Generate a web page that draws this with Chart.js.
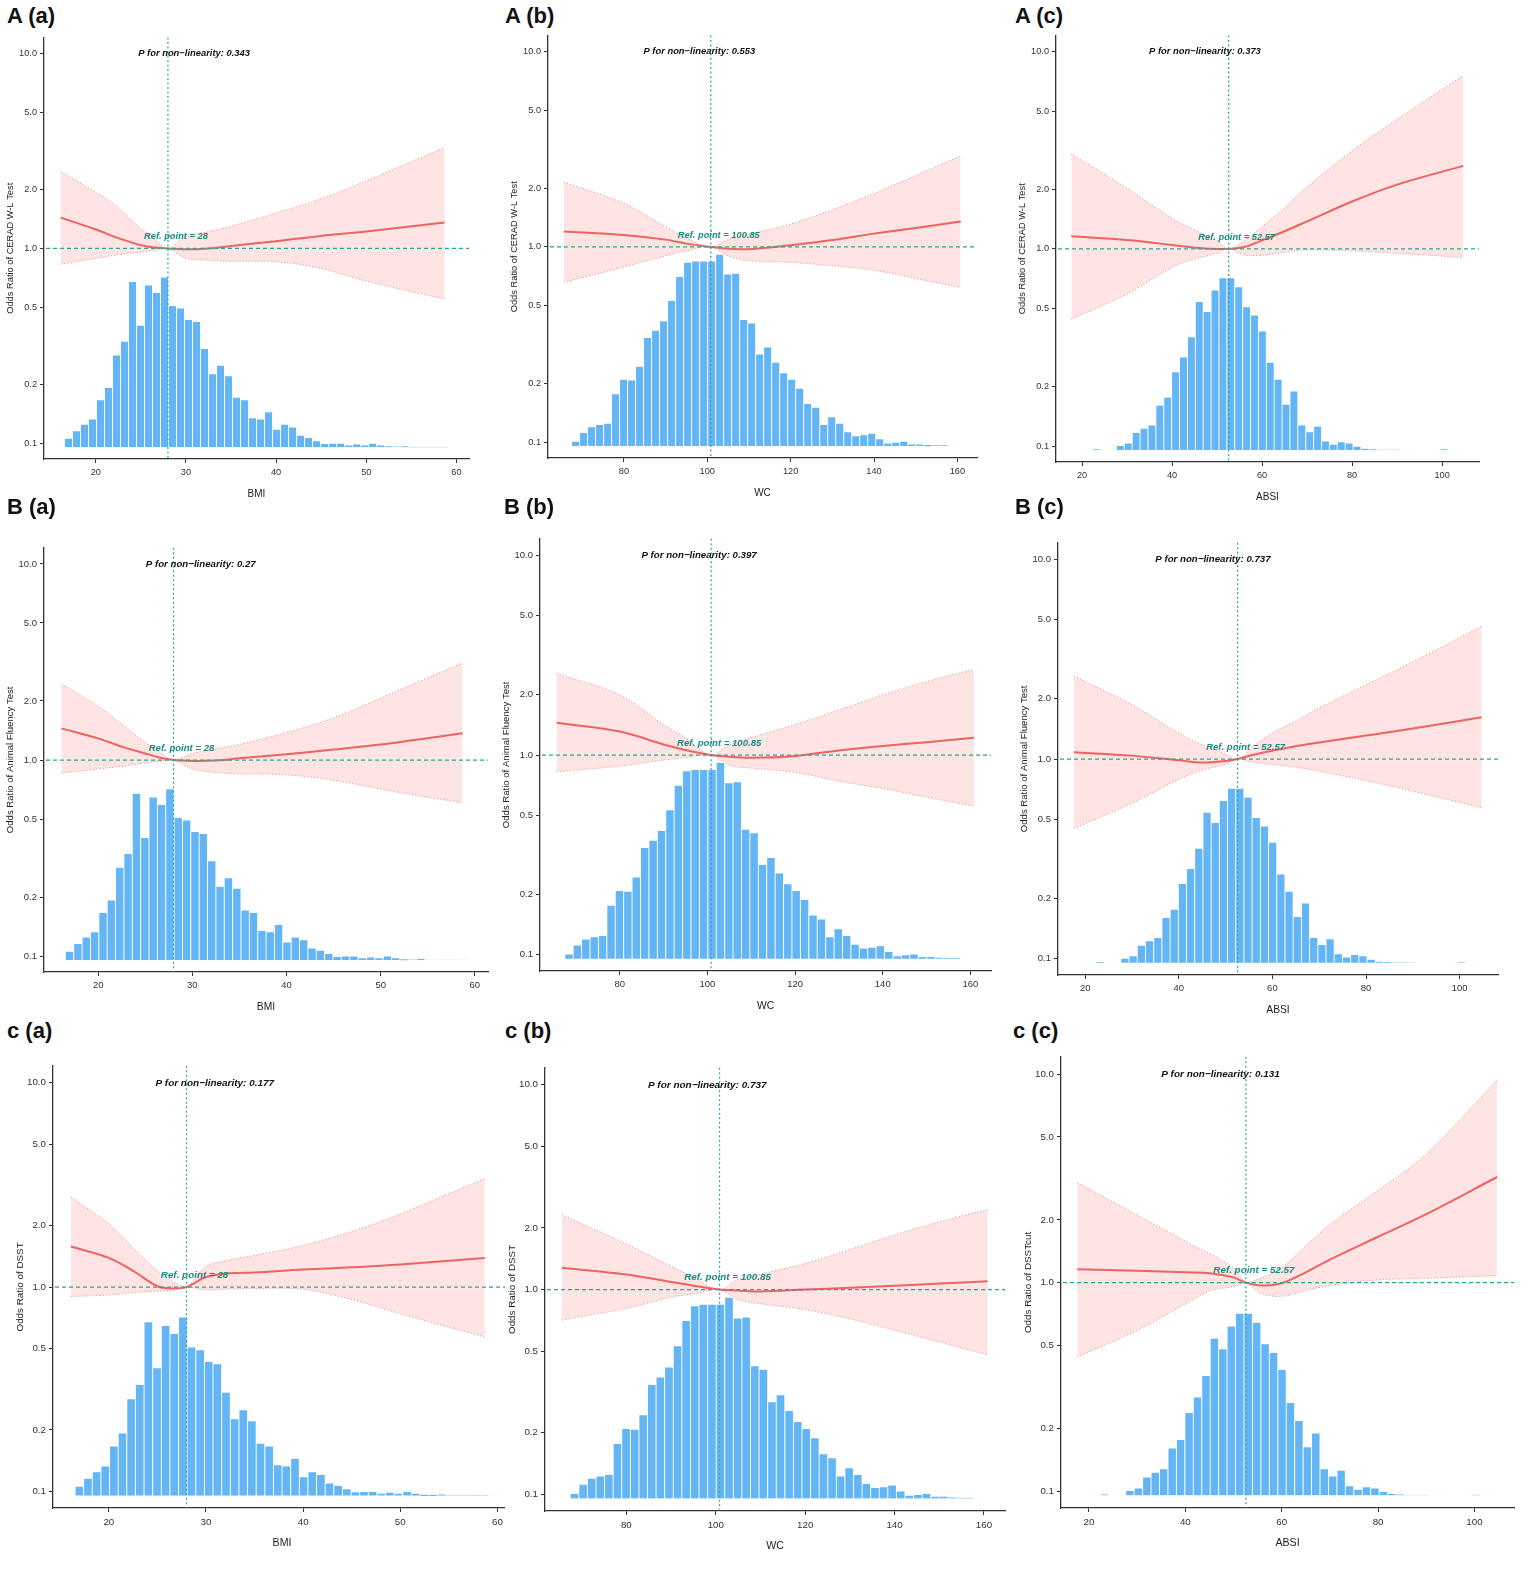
<!DOCTYPE html>
<html>
<head>
<meta charset="utf-8">
<script src="https://cdn.jsdelivr.net/npm/chart.js@4.4.0/dist/chart.umd.min.js"></script>
<style>
  body { margin: 0; background: #fff; }
  #page { position: relative; width: 1535px; height: 1571px; overflow: hidden; font-family: "Liberation Sans", Arial, sans-serif; }
  .panel { position: absolute; overflow: hidden; }
  .tag { position: absolute; font-weight: bold; font-size: 22px; line-height: 26px; color: #111; white-space: nowrap; }
</style>
</head>
<body>
<div id="page"></div>
<script>
// Tick labels
const orTicks = [0.1, 0.2, 0.5, 1, 2, 5, 10];
const bmiTicks = [20, 30, 40, 50, 60];
const wcTicks = [80, 100, 120, 140, 160];
const absiTicks = [20, 40, 60, 80, 100];

// Histograms (bar tops in OR units of the plot), shared by the three outcomes
const bmiBinStart = 16.52, bmiBinWidth = 0.888;
const bmiHist = [0.106, 0.116, 0.125, 0.133, 0.167, 0.193, 0.284, 0.334, 0.677, 0.403,
  0.648, 0.593, 0.713, 0.509, 0.494, 0.432, 0.422, 0.306, 0.227, 0.251,
  0.222, 0.172, 0.167, 0.135, 0.133, 0.145, 0.118, 0.125, 0.121, 0.110,
  0.107, 0.103, 0.0996, 0.100, 0.100, 0.098, 0.099, 0.098, 0.100, 0.098,
  0.0965, 0.096, 0.097, 0.0957, 0.0957, 0.0957, 0.0957, 0.0957];
const wcBinStart = 67.45, wcBinWidth = 1.92;
const wcHist = [0.101, 0.112, 0.120, 0.123, 0.125, 0.177, 0.210, 0.208, 0.245, 0.344,
  0.374, 0.419, 0.532, 0.706, 0.834, 0.847, 0.847, 0.847, 0.918, 0.726,
  0.734, 0.425, 0.408, 0.283, 0.307, 0.257, 0.227, 0.210, 0.189, 0.158,
  0.151, 0.123, 0.135, 0.125, 0.113, 0.108, 0.109, 0.111, 0.104, 0.099,
  0.100, 0.101, 0.098, 0.098, 0.097, 0.0965, 0.0965];
const absiBinStart = 22.37, absiBinWidth = 1.753;
const absiHist = [0.0965, 0, 0, 0.1007, 0.1035, 0.117, 0.123, 0.128, 0.161, 0.177,
  0.238, 0.283, 0.358, 0.541, 0.481, 0.619, 0.713, 0.713, 0.643, 0.509,
  0.462, 0.383, 0.266, 0.218, 0.163, 0.190, 0.128, 0.118, 0.126, 0.106,
  0.102, 0.105, 0.1035, 0.0996, 0.0973, 0.0966, 0.0958, 0.0958, 0.0957, 0,
  0, 0, 0, 0, 0.0962];

// Spline curves: x values where the curves were read
const bmiGrid = [16.1, 20, 22.5, 25, 26.5, 28, 30, 32.5, 35, 40, 45, 50, 58.7];
const wcGrid = [65.6, 80, 90, 95, 100.85, 105, 110, 120, 130, 140, 150, 160.8];
const absiGrid = [17.6, 30, 40, 45, 50, 52.57, 56, 60, 65, 70, 80, 90, 104.7];

// CERAD W-L Test
const cerBmiOR   = [1.44, 1.25, 1.13, 1.04, 1.01, 1.00, 0.99, 1.00, 1.03, 1.09, 1.16, 1.22, 1.36];
const cerBmiLow  = [0.83, 0.89, 0.93, 0.96, 0.98, 1.00, 0.89, 0.87, 0.86, 0.855, 0.79, 0.68, 0.55];
const cerBmiHigh = [2.48, 1.94, 1.62, 1.26, 1.12, 1.00, 1.15, 1.22, 1.30, 1.52, 1.80, 2.22, 3.30];
const cerWcOR    = [1.20, 1.15, 1.09, 1.04, 1.00, 0.98, 0.973, 1.02, 1.085, 1.17, 1.25, 1.35];
const cerWcLow   = [0.66, 0.79, 0.90, 0.955, 1.00, 0.90, 0.85, 0.834, 0.80, 0.76, 0.69, 0.62];
const cerWcHigh  = [2.15, 1.67, 1.27, 1.11, 1.00, 1.09, 1.16, 1.31, 1.55, 1.88, 2.32, 2.93];
const cerAbsiOR   = [1.16, 1.11, 1.047, 1.015, 1.00, 1.00, 1.023, 1.105, 1.23, 1.38, 1.74, 2.12, 2.64];
const cerAbsiLow  = [0.44, 0.59, 0.807, 0.888, 0.951, 1.00, 0.933, 0.93, 0.96, 0.99, 0.977, 0.951, 0.905];
const cerAbsiHigh = [3.03, 2.03, 1.43, 1.25, 1.10, 1.00, 1.10, 1.30, 1.62, 2.06, 3.15, 4.53, 7.60];

// Animal Fluency Test
const aftBmiOR   = [1.45, 1.29, 1.17, 1.08, 1.03, 1.00, 0.99, 0.995, 1.02, 1.07, 1.13, 1.20, 1.37];
const aftBmiLow  = [0.86, 0.90, 0.93, 0.965, 0.985, 1.00, 0.90, 0.865, 0.85, 0.84, 0.79, 0.71, 0.605];
const aftBmiHigh = [2.44, 1.88, 1.52, 1.23, 1.10, 1.00, 1.08, 1.14, 1.20, 1.38, 1.64, 2.07, 3.13];
const aftWcOR    = [1.45, 1.31, 1.13, 1.06, 1.00, 0.98, 0.97, 0.99, 1.055, 1.11, 1.16, 1.22];
const aftWcLow   = [0.824, 0.88, 0.945, 0.97, 1.00, 0.89, 0.86, 0.82, 0.74, 0.68, 0.615, 0.555];
const aftWcHigh  = [2.56, 2.00, 1.42, 1.22, 1.00, 1.13, 1.22, 1.42, 1.68, 2.00, 2.33, 2.68];
const aftAbsiOR   = [1.08, 1.04, 0.985, 0.96, 0.977, 1.00, 1.05, 1.10, 1.16, 1.21, 1.31, 1.42, 1.62];
const aftAbsiLow  = [0.45, 0.60, 0.79, 0.88, 0.94, 1.00, 0.96, 0.94, 0.91, 0.87, 0.78, 0.69, 0.57];
const aftAbsiHigh = [2.60, 1.87, 1.35, 1.18, 1.06, 1.00, 1.16, 1.35, 1.55, 1.80, 2.35, 3.06, 4.62];

// DSST
const dsstBmiOR   = [1.58, 1.39, 1.20, 1.01, 0.985, 1.00, 1.12, 1.17, 1.18, 1.22, 1.25, 1.29, 1.39];
const dsstBmiLow  = [0.90, 0.915, 0.94, 0.955, 0.96, 1.00, 0.97, 0.98, 0.985, 0.975, 0.87, 0.74, 0.57];
const dsstBmiHigh = [2.75, 2.04, 1.55, 1.20, 1.07, 1.01, 1.26, 1.36, 1.43, 1.60, 1.87, 2.28, 3.40];
const dsstWcOR    = [1.28, 1.185, 1.09, 1.045, 1.00, 0.99, 0.98, 1.00, 1.02, 1.045, 1.07, 1.10];
const dsstWcLow   = [0.71, 0.81, 0.92, 0.953, 1.00, 0.895, 0.853, 0.80, 0.72, 0.633, 0.555, 0.48];
const dsstWcHigh  = [2.32, 1.67, 1.30, 1.15, 1.00, 1.125, 1.19, 1.34, 1.57, 1.85, 2.14, 2.46];
const dsstAbsiOR   = [1.16, 1.14, 1.12, 1.11, 1.06, 1.00, 0.968, 0.993, 1.12, 1.29, 1.66, 2.13, 3.21];
const dsstAbsiLow  = [0.44, 0.59, 0.79, 0.91, 0.957, 0.99, 0.884, 0.86, 0.917, 0.968, 1.03, 1.05, 1.08];
const dsstAbsiHigh = [3.02, 2.11, 1.58, 1.38, 1.18, 1.01, 1.06, 1.18, 1.50, 1.90, 2.77, 4.14, 9.37];

const FONT = '"Liberation Sans", Arial, sans-serif';
const TEAL = '#26A69A';
const TEAL_TEXT = '#1B8C80';
const BAR = '#64B5F6';
const LINE = '#EE6262';
const BAND_FILL = 'rgba(248, 118, 109, 0.2)';
const BAND_EDGE = 'rgba(225, 120, 120, 0.75)';
const AXIS = '#333';
const OR_MIN = 0.083, OR_MAX = 12.1, HIST_BASE = 0.0955;

const bmi = { name: 'BMI', grid: bmiGrid, ticks: bmiTicks, min: 14.25, max: 61.4, ref: 28, refLabel: '28', pX: 30.9,
  hist: bmiHist, binStart: bmiBinStart, binWidth: bmiBinWidth };
const wc = { name: 'WC', grid: wcGrid, ticks: wcTicks, min: 61.8, max: 164.7, ref: 100.85, refLabel: '100.85', pX: 98.1,
  hist: wcHist, binStart: wcBinStart, binWidth: wcBinWidth };
const absi = { name: 'ABSI', grid: absiGrid, ticks: absiTicks, min: 14.2, max: 108.2, ref: 52.57, refLabel: '52.57', pX: 47.3,
  hist: absiHist, binStart: absiBinStart, binWidth: absiBinWidth };

const panels = [
  { tag: 'A (a)', tagXY: [7, 16], v: bmi, yTitle: 'Odds Ratio of CERAD W-L Test', p: '0.343', or: cerBmiOR, lo: cerBmiLow, hi: cerBmiHigh, box: [44, 33, 469, 459], fs: 1 },
  { tag: 'A (b)', tagXY: [505, 16], v: wc, yTitle: 'Odds Ratio of CERAD W-L Test', p: '0.553', or: cerWcOR, lo: cerWcLow, hi: cerWcHigh, box: [548, 31, 977, 458], fs: 1 },
  { tag: 'A (c)', tagXY: [1015, 16], v: absi, yTitle: 'Odds Ratio of CERAD W-L Test', p: '0.373', or: cerAbsiOR, lo: cerAbsiLow, hi: cerAbsiHigh, box: [1056, 31, 1479, 462], fs: 1 },
  { tag: 'B (a)', tagXY: [7, 507], v: bmi, yTitle: 'Odds Ratio of Animal Fluency Test', p: '0.27', or: aftBmiOR, lo: aftBmiLow, hi: aftBmiHigh, box: [44, 543, 488, 972], fs: 1.03 },
  { tag: 'B (b)', tagXY: [504, 507], v: wc, yTitle: 'Odds Ratio of Animal Fluency Test', p: '0.397', or: aftWcOR, lo: aftWcLow, hi: aftWcHigh, box: [540, 534, 991, 971], fs: 1.03 },
  { tag: 'B (c)', tagXY: [1015, 507], v: absi, yTitle: 'Odds Ratio of Animal Fluency Test', p: '0.737', or: aftAbsiOR, lo: aftAbsiLow, hi: aftAbsiHigh, box: [1058, 538, 1498, 975], fs: 1.03 },
  { tag: 'c (a)', tagXY: [7, 1031], v: bmi, yTitle: 'Odds Ratio of DSST', p: '0.177', or: dsstBmiOR, lo: dsstBmiLow, hi: dsstBmiHigh, box: [53, 1061, 511, 1508], fs: 1.06, clipRight: 505 },
  { tag: 'c (b)', tagXY: [505, 1031], v: wc, yTitle: 'Odds Ratio of DSST', p: '0.737', or: dsstWcOR, lo: dsstWcLow, hi: dsstWcHigh, box: [545, 1063, 1005, 1511], fs: 1.06 },
  { tag: 'c (c)', tagXY: [1013, 1031], v: absi, yTitle: 'Odds Ratio of DSSTcut', p: '0.131', or: dsstAbsiOR, lo: dsstAbsiLow, hi: dsstAbsiHigh, box: [1061, 1052, 1514, 1508], fs: 1.06 }
];

// Reference lines and the two annotations
const refLines = {
  id: 'refLines',
  afterDatasetsDraw(chart, args, o) {
    const { ctx, chartArea: a, scales: { x, y } } = chart;
    const px = x.getPixelForValue(o.ref);
    const py = y.getPixelForValue(1);
    ctx.save();
    ctx.strokeStyle = TEAL;
    ctx.lineWidth = 1.2;
    ctx.setLineDash([2, 2.5]);
    ctx.beginPath(); ctx.moveTo(px, a.top); ctx.lineTo(px, a.bottom); ctx.stroke();
    ctx.setLineDash([4, 3]);
    ctx.beginPath(); ctx.moveTo(a.left + 2, py); ctx.lineTo(a.right, py); ctx.stroke();
    ctx.setLineDash([]);
    ctx.textAlign = 'center';
    ctx.textBaseline = 'middle';
    ctx.font = 'italic bold ' + (9.3 * o.fs) + 'px ' + FONT;
    ctx.fillStyle = TEAL_TEXT;
    ctx.fillText('Ref. point = ' + o.refLabel, px + 8, py - 12);
    ctx.font = 'italic bold ' + (9.4 * o.fs) + 'px ' + FONT;
    ctx.fillStyle = '#111';
    ctx.fillText('P for non\u2212linearity: ' + o.p, x.getPixelForValue(o.pX), y.getPixelForValue(10));
    ctx.restore();
  }
};

const page = document.getElementById('page');

function points(xs, ys) {
  return xs.map((x, i) => ({ x: x, y: ys[i] }));
}

function histogram(v) {
  const out = [];
  v.hist.forEach((top, i) => {
    if (top > HIST_BASE) out.push({ x: v.binStart + (i + 0.5) * v.binWidth, y: [HIST_BASE, top] });
  });
  return out;
}

function drawPanel(p) {
  const v = p.v;
  const [L, T, R, B] = p.box;
  const AXW = 42, AXH = 42, PT = 4, PR = 4;
  const w = R - L + AXW + PR, h = B - T + PT + AXH;

  const tag = document.createElement('div');
  tag.className = 'tag';
  tag.textContent = p.tag;
  tag.style.left = p.tagXY[0] + 'px';
  tag.style.top = (p.tagXY[1] - 13) + 'px';
  page.appendChild(tag);

  const wrap = document.createElement('div');
  wrap.className = 'panel';
  wrap.style.left = (L - AXW) + 'px';
  wrap.style.top = (T - PT) + 'px';
  wrap.style.width = (p.clipRight ? p.clipRight - (L - AXW) : w) + 'px';
  wrap.style.height = h + 'px';
  const canvas = document.createElement('canvas');
  canvas.width = w;
  canvas.height = h;
  canvas.style.width = w + 'px';
  canvas.style.height = h + 'px';
  wrap.appendChild(canvas);
  page.appendChild(wrap);

  const band = { borderColor: BAND_EDGE, borderWidth: 1, borderDash: [1.2, 2], pointRadius: 0, tension: 0.35, order: 3 };

  return new Chart(canvas.getContext('2d'), {
    type: 'bar',
    data: {
      datasets: [
        Object.assign({ type: 'line', data: points(v.grid, p.hi), backgroundColor: BAND_FILL, fill: '+1' }, band),
        Object.assign({ type: 'line', data: points(v.grid, p.lo), fill: false }, band),
        {
          type: 'bar',
          data: histogram(v),
          backgroundColor: BAR,
          borderColor: 'rgba(255, 255, 255, 0.85)',
          borderWidth: 0.8,
          barPercentage: 1,
          categoryPercentage: 1,
          order: 2
        },
        {
          type: 'line',
          data: points(v.grid, p.or),
          borderColor: LINE,
          borderWidth: 2,
          pointRadius: 0,
          fill: false,
          tension: 0.35,
          order: 1
        }
      ]
    },
    options: {
      responsive: false,
      animation: false,
      layout: { padding: { top: PT, right: PR, left: 0, bottom: 0 } },
      plugins: {
        legend: { display: false },
        tooltip: { enabled: false },
        refLines: { ref: v.ref, refLabel: v.refLabel, pX: v.pX, p: p.p, fs: p.fs }
      },
      scales: {
        x: {
          type: 'linear',
          min: v.min,
          max: v.max,
          offset: false,
          afterBuildTicks: s => { s.ticks = v.ticks.map(t => ({ value: t })); },
          afterFit: s => { s.height = AXH; },
          grid: { display: true, offset: false, drawOnChartArea: false, drawTicks: true, tickLength: 4, color: AXIS },
          border: { display: true, color: AXIS, width: 1.3 },
          ticks: { color: '#333', font: { family: FONT, size: 9.2 * p.fs }, padding: 4, maxRotation: 0, autoSkip: false },
          title: { display: true, text: v.name, color: '#222', font: { family: FONT, size: 10 * p.fs }, padding: { top: 0, bottom: 1 } }
        },
        y: {
          type: 'logarithmic',
          min: OR_MIN,
          max: OR_MAX,
          afterBuildTicks: s => { s.ticks = orTicks.map(t => ({ value: t })); },
          afterFit: s => { s.width = AXW; },
          grid: { display: true, drawOnChartArea: false, drawTicks: true, tickLength: 4, color: AXIS },
          border: { display: true, color: AXIS, width: 1.3 },
          ticks: { color: '#333', font: { family: FONT, size: 9.2 * p.fs }, padding: 3, autoSkip: false,
                   callback: val => Number(val).toFixed(1) },
          title: { display: true, text: p.yTitle, color: '#222', font: { family: FONT, size: 9.3 * p.fs }, padding: { top: 3, bottom: 0 } }
        }
      }
    },
    plugins: [refLines]
  });
}

const charts = panels.map(drawPanel);
</script>
</body>
</html>
